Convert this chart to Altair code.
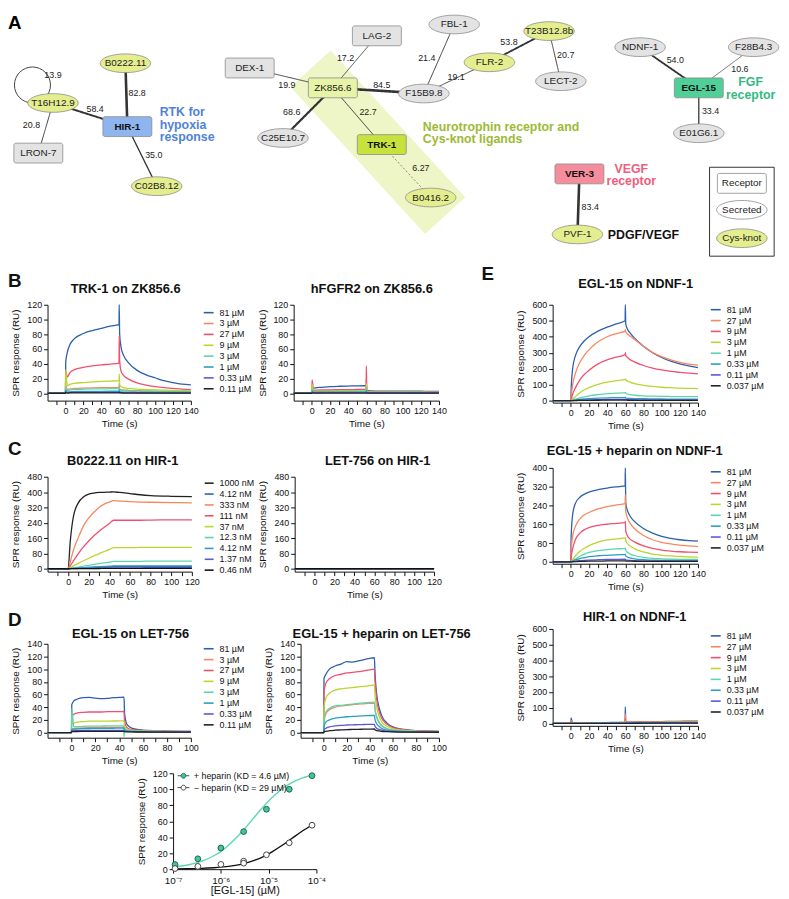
import altair as alt
import pandas as pd

FONT = "Liberation Sans"

# ---------------- Panel A : network ----------------
NODE_NAMES = ["B0222.11", "T16H12.9", "HIR-1", "LRON-7", "C02B8.12", "DEX-1", "LAG-2", "ZK856.6",
              "F15B9.8", "FBL-1", "FLR-2", "T23B12.8b", "LECT-2", "C25E10.7", "TRK-1", "B0416.2",
              "NDNF-1", "F28B4.3", "EGL-15", "E01G6.1", "VER-3", "PVF-1", "Receptor", "Secreted", "Cys-knot"]
NODE_X = [120, 46, 122, 31, 152, 247, 377, 332, 425, 456, 492, 553, 565, 281, 382, 432,
          646, 762, 706, 706, 584, 582, 750, 750, 750]
NODE_Y = [53, 95, 120, 148, 183, 58, 24, 79, 85, 12, 52, 19, 72, 132, 139, 195,
          36, 36, 79, 127, 170, 234, 180, 208, 238]
NODE_SHAPE = ["ellipse", "ellipse", "box", "box", "ellipse", "box", "box", "box", "ellipse", "ellipse",
              "ellipse", "ellipse", "ellipse", "ellipse", "box", "ellipse", "ellipse", "ellipse", "box",
              "ellipse", "box", "ellipse", "box", "ellipse", "ellipse"]
NODE_GROUP = ["cys", "cys", "hir", "other", "cys", "other", "other", "zk", "other", "other", "cys", "cys",
              "other", "other", "trk", "cys", "other", "other", "egl", "other", "ver", "cys",
              "blank", "blank", "cys"]
BOLD_NODES = ["HIR-1", "TRK-1", "EGL-15", "VER-3"]

EDGE_SRC = ["T16H12.9", "B0222.11", "HIR-1", "T16H12.9", "DEX-1", "LAG-2", "ZK856.6", "ZK856.6", "ZK856.6",
            "TRK-1", "FBL-1", "F15B9.8", "FLR-2", "T23B12.8b", "NDNF-1", "F28B4.3", "EGL-15", "VER-3"]
EDGE_DST = ["HIR-1", "HIR-1", "C02B8.12", "LRON-7", "ZK856.6", "ZK856.6", "F15B9.8", "C25E10.7", "TRK-1",
            "B0416.2", "F15B9.8", "FLR-2", "T23B12.8b", "LECT-2", "EGL-15", "EGL-15", "E01G6.1", "PVF-1"]
EDGE_SCORE = [58.4, 82.8, 35.0, 20.8, 19.9, 17.2, 84.5, 68.6, 22.7, 6.27, 21.4, 19.1, 53.8, 20.7,
              54.0, 10.6, 33.4, 83.4]
EDGE_TEXT = ["58.4", "82.8", "35.0", "20.8", "19.9", "17.2", "84.5", "68.6", "22.7", "6.27", "21.4", "19.1",
             "53.8", "20.7", "54.0", "10.6", "33.4", "83.4", "13.9"]
EDGE_LX = [89, 132, 149, 24, 285, 345, 382, 290, 368, 422, 428, 458, 512, 570, 682, 748, 718, 595, 46]
EDGE_LY = [101, 84, 150, 118, 76, 47, 76, 105, 105, 164, 47, 68, 31, 44, 50, 59, 103, 205, 65]

LOOP_X = [25]
LOOP_Y = [76]

ANNOT_TEXT = ["RTK for", "hypoxia", "response", "Neurotrophin receptor and", "Cys-knot ligands",
              "FGF", "receptor", "VEGF", "receptor", "PDGF/VEGF"]
ANNOT_X = [155, 155, 155, 424, 424, 759, 759, 637, 637, 613]
ANNOT_Y = [105, 118, 131, 120, 133, 73, 87, 165, 178, 235]
ANNOT_GRP = ["rtk", "rtk", "rtk", "neuro", "neuro", "fgf", "fgf", "vegf", "vegf", "pdgf"]
ANNOT_ALIGN = ["left", "left", "left", "left", "left", "center", "center", "center", "center", "left"]

BAND = [328, 80, 428, 193]
LEGEND_BOX = [717, 163, 783, 257]

XS = alt.Scale(domain=[0, 789], range=[-40, 741])


def ys():
    return alt.Scale(domain=[0, 300], range=[0, 287])


pos = dict(zip(NODE_NAMES, zip(NODE_X, NODE_Y)))
nodes = pd.DataFrame({"name": NODE_NAMES, "x": NODE_X, "y": NODE_Y, "shape": NODE_SHAPE, "grp": NODE_GROUP})
nodes["bold"] = nodes["name"].isin(BOLD_NODES)
edges = pd.DataFrame({
    "x": [pos[s][0] for s in EDGE_SRC], "y": [pos[s][1] for s in EDGE_SRC],
    "x2": [pos[d][0] for d in EDGE_DST], "y2": [pos[d][1] for d in EDGE_DST],
    "score": EDGE_SCORE})
elabels = pd.DataFrame({"x": EDGE_LX, "y": EDGE_LY, "t": EDGE_TEXT})
annots = pd.DataFrame({"x": ANNOT_X, "y": ANNOT_Y, "t": ANNOT_TEXT, "grp": ANNOT_GRP, "al": ANNOT_ALIGN})

GRP_DOMAIN = ["cys", "zk", "trk", "hir", "egl", "ver", "other", "blank"]
GRP_RANGE = ["#e4ee8e", "#e7f3a6", "#c7e23d", "#8fb5f1", "#50cf99", "#f58d9d", "#e3e3e3", "#ffffff"]
ANN_DOMAIN = ["rtk", "neuro", "fgf", "vegf", "pdgf"]
ANN_RANGE = ["#4f83d6", "#9cba35", "#33b981", "#f25c7a", "#111111"]

ELLIPSE = "M-1,0A1,0.37,0,1,1,1,0A1,0.37,0,1,1,-1,0Z"

band = alt.Chart(pd.DataFrame({"x": [BAND[0]], "y": [BAND[1]], "x2": [BAND[2]], "y2": [BAND[3]]})).mark_rule(
    strokeWidth=55, strokeCap="square", color="#eef6c8").encode(
    x=alt.X("x:Q", scale=XS, axis=None), y=alt.Y("y:Q", scale=ys(), axis=None), x2="x2:Q", y2="y2:Q")

edge_layer = alt.Chart(edges).mark_rule(color="#333333").encode(
    x=alt.X("x:Q", scale=XS, axis=None), y=alt.Y("y:Q", scale=ys(), axis=None), x2="x2:Q", y2="y2:Q",
    strokeWidth=alt.StrokeWidth("score:Q", scale=alt.Scale(domain=[0, 90], range=[0.4, 2.8]), legend=None),
    strokeDash=alt.condition("datum.score < 8", alt.value([2, 2]), alt.value([1, 0])))

loop = alt.Chart(pd.DataFrame({"x": LOOP_X, "y": LOOP_Y})).mark_point(
    shape="circle", size=1330, filled=False, stroke="#444444", strokeWidth=1, opacity=1).encode(
    x=alt.X("x:Q", scale=XS, axis=None), y=alt.Y("y:Q", scale=ys(), axis=None))

boxes = alt.Chart(nodes).transform_filter("datum.shape == 'box'").transform_calculate(
    xa="datum.x - 25", xb="datum.x + 25", ya="datum.y - 10.5", yb="datum.y + 10.5").mark_rect(
    cornerRadius=2, stroke="#8a8a8a", strokeWidth=0.8).encode(
    x=alt.X("xa:Q", scale=XS, axis=None), x2="xb:Q",
    y=alt.Y("ya:Q", scale=ys(), axis=None), y2="yb:Q",
    fill=alt.Fill("grp:N", scale=alt.Scale(domain=GRP_DOMAIN, range=GRP_RANGE), legend=None))

ellipses = alt.Chart(nodes).transform_filter("datum.shape == 'ellipse'").mark_point(
    shape=ELLIPSE, size=2601, filled=True, stroke="#8a8a8a", strokeWidth=0.8, opacity=1).encode(
    x=alt.X("x:Q", scale=XS, axis=None), y=alt.Y("y:Q", scale=ys(), axis=None),
    fill=alt.Fill("grp:N", scale=alt.Scale(domain=GRP_DOMAIN, range=GRP_RANGE), legend=None))

node_txt = alt.Chart(nodes).transform_filter("!datum.bold").mark_text(
    font=FONT, fontSize=10, color="#222222", baseline="middle").encode(
    x=alt.X("x:Q", scale=XS, axis=None), y=alt.Y("y:Q", scale=ys(), axis=None), text="name:N")
node_bold = alt.Chart(nodes).transform_filter("datum.bold").mark_text(
    font=FONT, fontSize=10, fontWeight="bold", color="#111111", baseline="middle").encode(
    x=alt.X("x:Q", scale=XS, axis=None), y=alt.Y("y:Q", scale=ys(), axis=None), text="name:N")

edge_txt = alt.Chart(elabels).mark_text(font=FONT, fontSize=9, color="#222222", baseline="middle").encode(
    x=alt.X("x:Q", scale=XS, axis=None), y=alt.Y("y:Q", scale=ys(), axis=None), text="t:N")


def annot_layer(al):
    return alt.Chart(annots).transform_filter(f"datum.al == '{al}'").mark_text(
        font=FONT, fontSize=12.5, fontWeight="bold", align=al, baseline="middle").encode(
        x=alt.X("x:Q", scale=XS, axis=None), y=alt.Y("y:Q", scale=ys(), axis=None), text="t:N",
        color=alt.Color("grp:N", scale=alt.Scale(domain=ANN_DOMAIN, range=ANN_RANGE), legend=None))


legbox = alt.Chart(pd.DataFrame({"x": [LEGEND_BOX[0]], "y": [LEGEND_BOX[1]],
                                 "x2": [LEGEND_BOX[2]], "y2": [LEGEND_BOX[3]]})).mark_rect(
    fill="transparent", stroke="#333333", strokeWidth=1).encode(
    x=alt.X("x:Q", scale=XS, axis=None), y=alt.Y("y:Q", scale=ys(), axis=None), x2="x2:Q", y2="y2:Q")

letter_a = alt.Chart(pd.DataFrame({"x": [0], "y": [1], "t": ["A"]})).mark_text(
    font=FONT, fontSize=19, fontWeight="bold", align="left", baseline="top", color="#000000").encode(
    x=alt.X("x:Q", scale=XS, axis=None), y=alt.Y("y:Q", scale=ys(), axis=None), text="t:N")

network = alt.layer(band, edge_layer, loop, legbox, boxes, ellipses, node_txt, node_bold, edge_txt,
                    annot_layer("left"), annot_layer("center"), letter_a).properties(width=741, height=230)

# ---------------- SPR sensorgrams ----------------
C8 = ["#2c5fae", "#f8875f", "#f0506f", "#b9d62f", "#5cd6a9", "#2a9fc3", "#5b57d8", "#222222"]
C9 = ["#222222", "#2c5fae", "#f8875f", "#f0506f", "#b9d62f", "#5cd6a9", "#2a9fc3", "#5b57d8", "#111111"]

B_LABELS = ["81 µM", "3 µM", "27 µM", "9 µM", "3 µM ", "1 µM", "0.33 µM", "0.11 µM"]
T_B = [-20, -0.2, 0, 0.3, 2, 5, 10, 20, 30, 40, 50, 59.8, 60, 60.5, 62, 65, 70, 80, 90, 100, 110, 120, 130, 140]
BL_VALUES = [
    [0, 0, 0, 42, 55, 66, 74, 81, 85, 88, 91, 93, 120, 80, 63, 51, 42, 31, 25, 21, 17, 14.5, 12.5, 11.5],
    [0, 0, 0, 10, 5, 6, 6.5, 7, 7.3, 7.5, 7.7, 8, 14, 6, 5, 4.5, 4, 3.5, 3.2, 3, 2.8, 2.6, 2.5, 2.4],
    [0, 0, 0, 30, 22, 28, 32, 35, 37, 38.5, 39.5, 41, 78, 45, 30, 24, 19.5, 14, 11, 9, 7.5, 6.5, 5.5, 5],
    [0, 0, 0, 32, 10, 12, 13.5, 14.5, 15.5, 16, 16.5, 17, 26, 12, 9, 7.5, 6.5, 5.5, 5, 4.5, 4.2, 4, 3.7, 3.5],
    [0, 0, 0, 8, 3.5, 4.5, 5, 5.5, 5.8, 6, 6.2, 6.5, 10, 5, 4, 3.5, 3.2, 2.8, 2.6, 2.4, 2.3, 2.2, 2.1, 2],
    [0, 0, 0, 4, 1.5, 2, 2.2, 2.4, 2.5, 2.6, 2.7, 2.8, 5, 2, 1.8, 1.6, 1.5, 1.3, 1.2, 1.1, 1.1, 1, 1, 1],
    [0, 0, 0, 2, 0.8, 1, 1.1, 1.2, 1.2, 1.3, 1.3, 1.4, 2.5, 1, 0.9, 0.8, 0.8, 0.7, 0.7, 0.6, 0.6, 0.6, 0.5, 0.5],
    [0, 0, 0, 1, 0.3, 0.4, 0.4, 0.5, 0.5, 0.5, 0.5, 0.6, 1, 0.4, 0.4, 0.3, 0.3, 0.3, 0.3, 0.3, 0.3, 0.3, 0.3, 0.3],
]
BR_VALUES = [
    [0, 0, 0, 6, 7, 7.5, 8, 9, 9.5, 9.8, 10, 10.5, 12, 4, 3.5, 3.2, 3, 3, 2.9, 2.8, 2.7, 2.7, 2.6, 2.5],
    [0, 0, 0, 10, 3, 3.2, 3.4, 3.6, 3.8, 4, 4.1, 4.2, 20, 2.5, 2.2, 2, 1.9, 1.8, 1.7, 1.6, 1.6, 1.5, 1.5, 1.5],
    [0, 0, 0, 18, 4, 4.2, 4.5, 4.7, 4.9, 5, 5.1, 5.2, 37, 3, 2.6, 2.4, 2.2, 2.1, 2, 2, 1.9, 1.9, 1.8, 1.8],
    [0, 0, 0, 12, 2.5, 2.7, 2.9, 3, 3.1, 3.2, 3.3, 3.4, 13, 2, 1.8, 1.7, 1.6, 1.5, 1.5, 1.4, 1.4, 1.4, 1.3, 1.3],
    [0, 0, 0, 6, 1.8, 2, 2.1, 2.2, 2.3, 2.3, 2.4, 2.4, 8, 1.5, 1.3, 1.2, 1.2, 1.1, 1.1, 1, 1, 1, 1, 1],
    [0, 0, 0, 3, 1.2, 1.3, 1.4, 1.5, 1.5, 1.6, 1.6, 1.6, 4, 1, 0.9, 0.9, 0.8, 0.8, 0.8, 0.8, 0.7, 0.7, 0.7, 0.7],
    [0, 0, 0, 1.5, 0.6, 0.7, 0.7, 0.8, 0.8, 0.8, 0.8, 0.9, 2, 0.5, 0.5, 0.5, 0.5, 0.4, 0.4, 0.4, 0.4, 0.4, 0.4, 0.4],
    [0, 0, 0, 0.5, 0.2, 0.2, 0.2, 0.2, 0.2, 0.2, 0.2, 0.2, 0.5, 0.2, 0.2, 0.2, 0.2, 0.2, 0.2, 0.2, 0.2, 0.2, 0.2, 0.2],
]

C_LABELS = ["1000 nM", "4.12 nM", "333 nM", "111 nM", "37 nM", "12.3 nM", "4.12 nM ", "1.37 nM", "0.46 nM"]
T_C = [-20, 0, 2, 5, 10, 15, 20, 25, 30, 35, 40, 44, 50, 60, 70, 80, 100, 120]
CL_VALUES = [
    [0, 0, 140, 270, 345, 375, 389, 395, 398, 399, 400, 401, 398, 392, 386, 382, 378, 376],
    [0, 0, 1, 2, 4, 5.5, 7, 8, 9, 10, 11, 12, 12, 12, 12, 12, 12, 12],
    [0, 0, 35, 95, 165, 225, 265, 295, 320, 337, 348, 355, 353, 350, 348, 347, 345, 344],
    [0, 0, 15, 40, 80, 115, 145, 172, 196, 217, 236, 253, 253, 253, 253, 254, 255, 255],
    [0, 0, 6, 15, 28, 42, 55, 67, 79, 90, 101, 110, 110, 110, 111, 111, 112, 112],
    [0, 0, 2, 5, 9, 14, 18, 23, 27, 31, 35, 38, 38, 39, 39, 40, 40, 40],
    [0, 0, 1, 2, 4, 6, 7.5, 9, 10.5, 12, 13.5, 15, 15, 15, 15, 15.5, 15.5, 15.5],
    [0, 0, 0.5, 1, 1.5, 2, 2.5, 3, 3.5, 4, 4.5, 5, 5, 5, 5, 5.5, 5.5, 5.5],
    [0, 0, 0.2, 0.4, 0.6, 0.8, 1, 1.2, 1.4, 1.6, 1.8, 2, 2, 2, 2, 2, 2, 2],
]
T_CR = [-20, 0, 44, 120]
CR_VALUES = [[0.6, 0.6, 0.8, 0.8], [0.4, 0.4, 0.6, 0.6], [0.5, 0.5, 0.7, 0.7], [0.4, 0.4, 0.5, 0.5],
             [0.3, 0.3, 0.4, 0.4], [0.2, 0.2, 0.3, 0.3], [0.1, 0.1, 0.2, 0.2], [0.1, 0.1, 0.1, 0.1], [0, 0, 0, 0]]

T_D = [-20, -0.2, 0, 0.3, 2, 5, 10, 15, 20, 25, 30, 35, 40, 43.8, 44, 44.5, 46, 48, 50, 55, 60, 70, 80, 100]
DL_VALUES = [
    [0, 0, 0, 44, 50, 53, 55, 55.5, 54.5, 53.5, 54, 55, 55.5, 56, 56, 30, 15, 10, 7.5, 5, 4, 3, 2.5, 2],
    [0, 0, 0, 6, 6.5, 7, 7.5, 7.8, 8, 8, 8.2, 8.3, 8.4, 8.5, 8.5, 5, 3.5, 3, 2.6, 2.2, 2, 1.8, 1.6, 1.5],
    [0, 0, 0, 25, 29, 31, 32, 32.5, 32.5, 32.5, 33, 33, 33, 33.5, 33.5, 18, 9, 6, 5, 3.8, 3.2, 2.6, 2.2, 1.8],
    [0, 0, 0, 14, 15, 16.5, 17.5, 18, 18, 18, 18.2, 18.3, 18.4, 18.5, 18.5, 10, 6, 4.5, 3.8, 3, 2.6, 2.2, 2, 1.7],
    [0, 0, 0, 38, 9, 9.5, 10, 10.2, 10.3, 10.4, 10.5, 10.6, 10.7, 10.8, -6, 6, 4, 3.2, 2.8, 2.3, 2, 1.8, 1.6, 1.4],
    [0, 0, 0, 5, 5.5, 6, 6.3, 6.5, 6.6, 6.7, 6.8, 6.9, 7, 7, 7, 4, 2.8, 2.3, 2, 1.7, 1.5, 1.4, 1.3, 1.2],
    [0, 0, 0, 3, 3.2, 3.4, 3.5, 3.5, 3.6, 3.6, 3.6, 3.6, 3.7, 3.7, 3.7, 2.5, 2, 1.7, 1.5, 1.3, 1.2, 1.1, 1, 1],
    [0, 0, 0, 1.5, 1.7, 1.8, 1.9, 2, 2, 2, 2, 2, 2, 2, 2, 1.5, 1.3, 1.2, 1.1, 1, 1, 0.9, 0.9, 0.8],
]
DR_VALUES = [
    [0, 0, 0, 85, 92, 100, 105, 108, 112, 111, 113, 115, 117, 118, 118, 95, 60, 40, 28, 15, 9, 5, 3, 2],
    [0, 0, 0, 18, 30, 36, 40, 42, 43, 44, 45, 45.5, 46, 46.5, 46.5, 37, 24, 16, 11, 6, 4, 2.5, 1.8, 1.3],
    [0, 0, 0, 65, 78, 85, 90, 92, 94, 95, 96, 97.5, 99, 100, 100, 82, 52, 34, 24, 13, 8, 4.5, 3, 2],
    [0, 0, 0, 40, 55, 62, 67, 69, 70, 71, 72, 73, 74, 75, 75, 60, 40, 26, 18, 10, 6, 3.5, 2.5, 1.8],
    [0, 0, 0, 20, 32, 38, 42, 43, 44, 45, 46, 47, 47.5, 48, 48, 38, 25, 17, 12, 6.5, 4, 2.5, 1.8, 1.3],
    [0, 0, 0, 10, 17, 20, 23, 24, 25, 25.5, 26, 26.5, 27, 27, 27, 21, 14, 10, 7, 4, 2.6, 1.7, 1.3, 1],
    [0, 0, 0, 4, 7, 9, 10.5, 11.5, 12, 12.3, 12.6, 12.8, 13, 13, 13, 10, 7, 5, 4, 2.5, 1.8, 1.3, 1, 0.8],
    [0, 0, 0, 1, 2, 3, 3.8, 4.3, 4.8, 5, 5.2, 5.4, 5.6, 5.8, 5.8, 4.5, 3.3, 2.6, 2.1, 1.5, 1.2, 0.9, 0.8, 0.6],
]

E_LABELS = ["81 µM", "27 µM", "9 µM", "3 µM", "1 µM", "0.33 µM", "0.11 µM", "0.037 µM"]
T_E = [-20, -0.2, 0, 0.3, 2, 5, 10, 15, 20, 30, 40, 50, 59.8, 60, 60.5, 62, 65, 70, 80, 90, 100, 110, 120, 130, 140]
E1_VALUES = [
    [0, 0, 0, 60, 200, 280, 340, 375, 400, 435, 460, 480, 500, 600, 480, 452, 425, 392, 340, 300, 270, 247, 230, 217, 207],
    [0, 0, 0, 20, 100, 170, 240, 285, 318, 368, 400, 420, 435, 445, 430, 420, 405, 385, 340, 302, 275, 255, 240, 229, 222],
    [0, 0, 0, 5, 40, 80, 130, 165, 190, 230, 255, 272, 288, 300, 283, 272, 258, 243, 220, 204, 192, 183, 177, 172, 168],
    [0, 0, 0, 2, 10, 25, 50, 68, 82, 102, 116, 125, 133, 137, 130, 124, 116, 107, 96, 89, 84, 81, 78, 77, 76],
    [0, 0, 0, 1, 4, 10, 18, 24, 30, 38, 44, 47, 50, 52, 47, 42, 38, 34, 30, 28, 27, 26, 25.5, 25, 25],
    [0, 0, 0, 0.5, 2, 5, 8, 11, 13, 16, 18, 19, 20, 22, 17, 15, 14, 13, 12, 11, 10.5, 10, 10, 10, 10],
    [0, 0, 0, 0.3, 1, 2, 3.5, 4.5, 5.5, 6.5, 7.5, 8, 8.5, 9, 7, 6.5, 6, 5.8, 5.5, 5.2, 5, 5, 5, 5, 5],
    [0, 0, 0, 0.1, 0.5, 1, 1.5, 2, 2.3, 2.7, 3, 3.2, 3.4, 3.5, 3, 2.8, 2.6, 2.5, 2.4, 2.3, 2.2, 2.2, 2.1, 2.1, 2],
]
E2_VALUES = [
    [0, 0, 0, 100, 200, 248, 275, 288, 297, 307, 314, 319, 323, 400, 250, 222, 196, 172, 142, 122, 108, 100, 94, 90, 88],
    [0, 0, 0, 40, 110, 150, 183, 200, 210, 225, 235, 242, 248, 285, 215, 190, 166, 142, 112, 94, 83, 76, 71, 68, 65],
    [0, 0, 0, 15, 55, 95, 122, 137, 146, 155, 160, 164, 168, 172, 132, 113, 98, 85, 68, 57, 50, 46, 43, 41, 40],
    [0, 0, 0, 2, 10, 25, 45, 58, 69, 84, 93, 98, 102, 103, 92, 80, 68, 56, 42, 33, 28, 25, 23, 21, 20],
    [0, 0, 0, 1, 5, 12, 24, 33, 40, 48, 52, 55, 57, 58, 50, 42, 34, 27, 19, 15, 13, 11.5, 10.5, 10, 10],
    [0, 0, 0, 0.5, 3, 8, 14, 18, 22, 26, 28, 30, 31, 32, 26, 21, 17, 13, 9, 7.5, 6.5, 6, 5.5, 5, 5],
    [0, 0, 0, 0.3, 1, 3, 5, 6.5, 7.5, 9, 10, 10.5, 11, 11.5, 9, 7.5, 6.5, 5.5, 4.5, 4, 3.7, 3.5, 3.3, 3.2, 3],
    [0, 0, 0, 0.1, 0.5, 1, 1.8, 2.4, 2.8, 3.3, 3.7, 4, 4.2, 4.3, 3.6, 3.2, 2.9, 2.6, 2.3, 2.1, 2, 1.9, 1.8, 1.8, 1.7],
]
E3_VALUES = [
    [0, 0, 0, 35, 2, 2.5, 3, 3.5, 4, 5, 6, 6.5, 7, 105, 8, 8.2, 8.5, 9, 10, 11, 12, 13, 14, 14.5, 15],
    [0, 0, 0, 20, 1.5, 2, 2.5, 3, 3.5, 4.5, 5.5, 6, 6.5, 60, 7, 7.2, 7.5, 8, 9, 10, 11, 12, 12.5, 13, 13.5],
    [0, 0, 0, 10, 1.2, 1.6, 2, 2.5, 3, 3.8, 4.5, 5, 5.5, 30, 6, 6.2, 6.5, 7, 8, 8.5, 9.5, 10, 10.5, 11, 11.5],
    [0, 0, 0, 5, 1, 1.3, 1.6, 2, 2.4, 3, 3.6, 4, 4.4, 15, 4.8, 5, 5.2, 5.6, 6.2, 6.8, 7.4, 8, 8.4, 8.8, 9],
    [0, 0, 0, 3, 0.8, 1, 1.3, 1.6, 1.9, 2.4, 2.9, 3.3, 3.6, 8, 3.8, 4, 4.2, 4.5, 5, 5.5, 6, 6.4, 6.8, 7, 7.2],
    [0, 0, 0, 2, 0.6, 0.8, 1, 1.2, 1.4, 1.8, 2.2, 2.5, 2.8, 5, 3, 3.1, 3.2, 3.5, 3.9, 4.3, 4.7, 5, 5.3, 5.5, 5.7],
    [0, 0, 0, 1, 0.4, 0.5, 0.7, 0.8, 1, 1.2, 1.5, 1.7, 1.9, 3, 2, 2.1, 2.2, 2.4, 2.7, 3, 3.3, 3.5, 3.7, 3.9, 4],
    [0, 0, 0, 0.5, 0.2, 0.3, 0.4, 0.5, 0.6, 0.7, 0.9, 1, 1.1, 1.5, 1.2, 1.2, 1.3, 1.4, 1.6, 1.8, 2, 2.1, 2.2, 2.3, 2.4],
]

# ---------------- dose response ----------------
DOSE_GROUPS = ["+ heparin (KD = 4.6 µM)", "− heparin (KD = 29 µM)"]
PLUS_CONC = [1.1e-7, 3.3e-7, 1e-6, 3e-6, 9e-6, 2.7e-5, 8.1e-5]
PLUS_RESP = [5.8, 13, 26.5, 47, 75, 100, 117]
MINUS_CONC = [1.1e-7, 3.3e-7, 1e-6, 3e-6, 3e-6, 9e-6, 2.7e-5, 8.1e-5]
MINUS_RESP = [0.8, 3.5, 6, 10, 7.5, 18, 33, 55]
FIT_CONC = [1e-7, 2e-7, 4e-7, 7e-7, 1e-6, 2e-6, 3e-6, 5e-6, 8e-6, 1.2e-5, 2e-5, 3e-5, 5e-5, 8e-5]
FIT_PLUS = [2.7, 5.2, 10, 16.5, 22, 38, 49, 65, 79, 90, 101.5, 108, 114, 117.5]
FIT_MINUS = [0.3, 0.5, 1, 1.8, 2.5, 4.8, 7, 11, 16, 22, 30.5, 38, 47.5, 55]


def text_layer(txt, x, y, size, align="center", baseline="middle"):
    return alt.Chart(pd.DataFrame({"t": [txt]})).mark_text(
        font=FONT, fontSize=size, fontWeight="bold", align=align, baseline=baseline, color="#111111").encode(
        x=alt.value(x), y=alt.value(y), text="t:N")


def ghost_rule(x1, x2):
    return alt.Chart(pd.DataFrame({"a": [0]})).mark_rule(opacity=0).encode(
        x=alt.value(x1), x2=alt.value(x2), y=alt.value(0))


def spr_panel(title, times, labels, values, colors, xdom, ydom, yticks, w, h,
              title_x, title_y, legend_y=None, sym=100, letter=None, extra=None):
    recs = []
    for lab, vals in zip(labels, values):
        for t, v in zip(times, vals):
            recs.append({"t": t, "v": v, "s": lab})
    df = pd.DataFrame(recs)
    ticks = list(range(xdom[0] + 10, xdom[1] + 1, 10))
    if legend_y is None:
        leg = None
    else:
        leg = alt.Legend(title=None, orient="none", legendX=w + 12, legendY=legend_y,
                         symbolType="stroke", symbolSize=sym, symbolStrokeWidth=1.6,
                         labelFontSize=9, labelFont=FONT, labelColor="#111111",
                         rowPadding=0, padding=0, labelOffset=5)
    lines = alt.Chart(df).mark_line(strokeWidth=1.3, interpolate="monotone").encode(
        x=alt.X("t:Q", scale=alt.Scale(domain=xdom, nice=False, zero=False),
                axis=alt.Axis(values=ticks, title="Time (s)", minExtent=15, maxExtent=15,
                              labelExpr="datum.value >= 0 && datum.value % 20 == 0 ? datum.label : ''")),
        y=alt.Y("v:Q", scale=alt.Scale(domain=ydom, nice=False, zero=False),
                axis=alt.Axis(values=yticks, title="SPR response (RU)", minExtent=22, maxExtent=22)),
        color=alt.Color("s:N", scale=alt.Scale(domain=labels, range=colors), legend=leg),
    )
    layers = [lines, text_layer(title, title_x, title_y, 13)]
    if letter is not None:
        layers.append(text_layer(letter[0], letter[1], letter[2], 19, align="left", baseline="top"))
    if extra is not None:
        layers.append(ghost_rule(0, extra))
    return alt.layer(*layers).properties(width=w, height=h)


Bl = spr_panel("TRK-1 on ZK856.6", T_B, B_LABELS, BL_VALUES, C8, [-20, 140], [-10, 120],
               list(range(0, 121, 20)), 145, 97, 79, -16, legend_y=2, letter=("B", -40, -33))
Br = spr_panel("hFGFR2 on ZK856.6", T_B, B_LABELS, BR_VALUES, C8, [-20, 140], [-10, 120],
               list(range(0, 121, 20)), 147, 97, 79, -16, extra=190)
Cl = spr_panel("B0222.11 on HIR-1", T_C, C_LABELS, CL_VALUES, C9, [-20, 120], [-15, 480],
               list(range(0, 481, 80)), 146, 96, 76, -16, legend_y=1, sym=81, letter=("C", -40, -37))
Cr = spr_panel("LET-756 on HIR-1", T_CR, C_LABELS, CR_VALUES, C9, [-20, 120], [-15, 480],
               list(range(0, 481, 80)), 141, 96, 84, -16)
Dl = spr_panel("EGL-15 on LET-756", T_D, B_LABELS, DL_VALUES, C8, [-20, 100], [-8, 140],
               list(range(0, 141, 20)), 145, 95, 84, -10, legend_y=-1, letter=("D", -40, -33))
Dr = spr_panel("EGL-15 + heparin on LET-756", T_D, B_LABELS, DR_VALUES, C8, [-20, 100], [-8, 140],
               list(range(0, 141, 20)), 140, 95, 82, -10)
E1 = spr_panel("EGL-15 on NDNF-1", T_E, E_LABELS, E1_VALUES, C8, [-20, 140], [-12, 600],
               list(range(0, 601, 100)), 147, 99, 84, -21, legend_y=-1, letter=("E", -72, -40))
E2 = spr_panel("EGL-15 + heparin on NDNF-1", T_E, E_LABELS, E2_VALUES, C8, [-20, 140], [-8, 400],
               list(range(0, 401, 80)), 147, 97, 83, -17, legend_y=-2)
E3 = spr_panel("HIR-1 on NDNF-1", T_E, E_LABELS, E3_VALUES, C8, [-20, 140], [-15, 600],
               list(range(0, 601, 100)), 147, 98, 83, -12, legend_y=1)

pts = pd.DataFrame({"c": PLUS_CONC + MINUS_CONC, "v": PLUS_RESP + MINUS_RESP,
                    "g": [DOSE_GROUPS[0]] * len(PLUS_CONC) + [DOSE_GROUPS[1]] * len(MINUS_CONC)})
fits = pd.DataFrame({"c": FIT_CONC + FIT_CONC, "v": FIT_PLUS + FIT_MINUS,
                     "g": [DOSE_GROUPS[0]] * len(FIT_CONC) + [DOSE_GROUPS[1]] * len(FIT_CONC)})
DX = alt.X("c:Q", scale=alt.Scale(type="log", domain=[1e-7, 1e-4], nice=False),
           axis=alt.Axis(values=[1e-7, 1e-6, 1e-5, 1e-4], title="[EGL-15] (µM)", titleFontSize=11,
                         labelFontSize=10, minExtent=15, maxExtent=15, titlePadding=1,
                         labelExpr="datum.value < 5e-7 ? '10⁻⁷' : datum.value < 5e-6 ? '10⁻⁶' : datum.value < 5e-5 ? '10⁻⁵' : '10⁻⁴'"))
DY = alt.Y("v:Q", scale=alt.Scale(domain=[0, 120], nice=False),
           axis=alt.Axis(values=list(range(0, 121, 20)), title="SPR response (RU)", minExtent=22, maxExtent=22))
dose_leg = alt.Legend(title=None, orient="none", legendX=4, legendY=-4,
                      symbolType="M-1,0H-0.4M0.4,0H1M0.4,0A0.4,0.4,0,1,1,-0.4,0A0.4,0.4,0,1,1,0.4,0Z",
                      symbolSize=144, symbolStrokeWidth=1, labelFontSize=9, labelFont=FONT,
                      labelColor="#111111", rowPadding=-2, padding=0)
fit_layer = alt.Chart(fits).mark_line(strokeWidth=1.4, interpolate="monotone").encode(
    x=DX, y=DY, color=alt.Color("g:N", scale=alt.Scale(domain=DOSE_GROUPS, range=["#5cd8b0", "#111111"]),
                                legend=None))
pt_layer = alt.Chart(pts).mark_point(filled=True, size=34, strokeWidth=1, opacity=1).encode(
    x=DX, y=DY,
    fill=alt.Fill("g:N", scale=alt.Scale(domain=DOSE_GROUPS, range=["#40c79d", "#ffffff"]), legend=dose_leg),
    stroke=alt.Stroke("g:N", scale=alt.Scale(domain=DOSE_GROUPS, range=["#27614f", "#444444"]), legend=dose_leg))
dose = alt.layer(fit_layer, pt_layer).resolve_scale(color="independent").properties(width=145, height=97)

spacer = ghost_rule(-40, 0).properties(width=1, height=97)

RS = dict(color="independent", fill="independent", stroke="independent",
          x="independent", y="independent")

Brow = alt.hconcat(Bl, Br, spacing=104, bounds="flush").resolve_scale(**RS)
Crow = alt.hconcat(Cl, Cr, spacing=104, bounds="flush").resolve_scale(**RS)
Drow = alt.hconcat(Dl, Dr, spacing=111, bounds="flush").resolve_scale(**RS)
upper = alt.vconcat(Brow, Crow, Drow, spacing=12).resolve_scale(**RS)
dose_row = alt.hconcat(spacer, dose, spacing=126, bounds="flush").resolve_scale(**RS)
leftcol = alt.vconcat(upper, dose_row, spacing=4).resolve_scale(**RS)
Ecol = alt.vconcat(E1, E2, E3, spacing=66, bounds="flush").resolve_scale(**RS)
bottom = alt.hconcat(leftcol, Ecol, spacing=0).resolve_scale(**RS)

chart = alt.vconcat(network, bottom, spacing=8, padding=0).resolve_scale(
    **RS
).configure_view(strokeWidth=0).configure_axis(
    domainColor="#111111", tickColor="#111111", labelColor="#111111", titleColor="#111111",
    labelFont=FONT, titleFont=FONT, labelFontSize=9, titleFontSize=10, titleFontWeight="normal",
    grid=False, tickSize=4, labelPadding=2, labelFlush=False, labelOverlap=False,
    domainWidth=1, tickWidth=1
).configure_axisX(titlePadding=3).configure_axisY(titlePadding=5).configure_legend(labelFont=FONT)

chart.save("out.html", embed_options={"renderer": "svg", "actions": False})
